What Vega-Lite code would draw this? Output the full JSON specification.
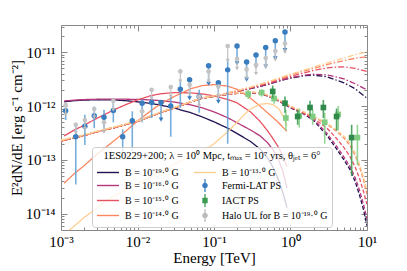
{
  "$schema": "https://vega.github.io/schema/vega-lite/v6.json",
  "width": 306,
  "height": 205,
  "autosize": {"type": "none"},
  "padding": {"left": 61, "top": 25, "right": 40, "bottom": 41},
  "background": "white",
  "config": {
    "view": {"stroke": null},
    "font": "Liberation Serif",
    "axis": {"labelFont": "Liberation Serif", "titleFont": "Liberation Serif", "labelFontSize": 15, "titleFontSize": 15, "titleFontWeight": "normal", "domainColor": "#888888", "tickColor": "#888888", "labelColor": "#000000", "titleColor": "#000000", "grid": false},
    "legend": {"labelFont": "Liberation Serif", "titleFont": "Liberation Serif"}
  },
  "datasets": {
    "curves": [
      {"s":"b19","k":"dd","E":0.001,"F":2.25e-13},{"s":"b19","k":"dd","E":0.002,"F":2.85e-13},{"s":"b19","k":"dd","E":0.003,"F":3.35e-13},{"s":"b19","k":"dd","E":0.005,"F":4.0e-13},{"s":"b19","k":"dd","E":0.01,"F":5.2e-13},{"s":"b19","k":"dd","E":0.02,"F":7.6e-13},{"s":"b19","k":"dd","E":0.03,"F":9.2e-13},{"s":"b19","k":"dd","E":0.05,"F":1.2e-12},{"s":"b19","k":"dd","E":0.07,"F":1.4e-12},{"s":"b19","k":"dd","E":0.1,"F":1.52e-12},
      {"s":"b19","k":"dd","E":0.15,"F":1.72e-12},{"s":"b19","k":"dd","E":0.2,"F":1.87e-12},{"s":"b19","k":"dd","E":0.3,"F":2.1e-12},{"s":"b19","k":"dd","E":0.5,"F":2.5e-12},{"s":"b19","k":"dd","E":0.7,"F":2.9e-12},{"s":"b19","k":"dd","E":1,"F":3.3e-12},{"s":"b19","k":"dd","E":1.5,"F":3.65e-12},{"s":"b19","k":"dd","E":2,"F":3.75e-12},{"s":"b19","k":"dd","E":3,"F":3.5e-12},{"s":"b19","k":"dd","E":5,"F":2.7e-12},{"s":"b19","k":"dd","E":7,"F":2.1e-12},{"s":"b19","k":"dd","E":10,"F":1.4e-12},
      {"s":"b19","k":"da","E":0.001,"F":2.25e-13},{"s":"b19","k":"da","E":0.002,"F":2.85e-13},{"s":"b19","k":"da","E":0.003,"F":3.35e-13},{"s":"b19","k":"da","E":0.005,"F":4.0e-13},{"s":"b19","k":"da","E":0.01,"F":5.2e-13},{"s":"b19","k":"da","E":0.02,"F":7.6e-13},{"s":"b19","k":"da","E":0.03,"F":9.2e-13},{"s":"b19","k":"da","E":0.05,"F":1.2e-12},{"s":"b19","k":"da","E":0.07,"F":1.4e-12},{"s":"b19","k":"da","E":0.1,"F":1.52e-12},
      {"s":"b19","k":"da","E":0.15,"F":1.65e-12},{"s":"b19","k":"da","E":0.2,"F":1.72e-12},{"s":"b19","k":"da","E":0.3,"F":1.78e-12},{"s":"b19","k":"da","E":0.4,"F":1.7e-12},{"s":"b19","k":"da","E":0.5,"F":1.55e-12},{"s":"b19","k":"da","E":0.7,"F":1.24e-12},{"s":"b19","k":"da","E":1,"F":9.3e-13},{"s":"b19","k":"da","E":1.5,"F":7.1e-13},{"s":"b19","k":"da","E":2,"F":5.4e-13},{"s":"b19","k":"da","E":3,"F":2.85e-13},{"s":"b19","k":"da","E":4,"F":1.6e-13},{"s":"b19","k":"da","E":5,"F":1.0e-13},{"s":"b19","k":"da","E":6,"F":6.6e-14},{"s":"b19","k":"da","E":7,"F":4.0e-14},{"s":"b19","k":"da","E":8,"F":2.2e-14},{"s":"b19","k":"da","E":9,"F":1.2e-14},{"s":"b19","k":"da","E":10,"F":6e-15},
      {"s":"b19","k":"so","E":0.0011,"F":1.2e-12},{"s":"b19","k":"so","E":0.0015,"F":1.26e-12},{"s":"b19","k":"so","E":0.002,"F":1.29e-12},{"s":"b19","k":"so","E":0.003,"F":1.31e-12},{"s":"b19","k":"so","E":0.005,"F":1.3e-12},{"s":"b19","k":"so","E":0.007,"F":1.26e-12},{"s":"b19","k":"so","E":0.01,"F":1.2e-12},{"s":"b19","k":"so","E":0.015,"F":1.12e-12},{"s":"b19","k":"so","E":0.02,"F":1.04e-12},{"s":"b19","k":"so","E":0.03,"F":9.2e-13},{"s":"b19","k":"so","E":0.05,"F":7.5e-13},{"s":"b19","k":"so","E":0.07,"F":6.3e-13},{"s":"b19","k":"so","E":0.1,"F":5.1e-13},{"s":"b19","k":"so","E":0.15,"F":3.9e-13},{"s":"b19","k":"so","E":0.2,"F":3.1e-13},{"s":"b19","k":"so","E":0.3,"F":2.2e-13},{"s":"b19","k":"so","E":0.4,"F":1.6e-13},{"s":"b19","k":"so","E":0.5,"F":1.1e-13},{"s":"b19","k":"so","E":0.6,"F":7e-14},{"s":"b19","k":"so","E":0.7,"F":4.2e-14},{"s":"b19","k":"so","E":0.8,"F":2.4e-14},{"s":"b19","k":"so","E":0.9,"F":1.3e-14},

      {"s":"b16","k":"dd","E":0.001,"F":2.25e-13},{"s":"b16","k":"dd","E":0.002,"F":2.85e-13},{"s":"b16","k":"dd","E":0.003,"F":3.35e-13},{"s":"b16","k":"dd","E":0.005,"F":4.0e-13},{"s":"b16","k":"dd","E":0.01,"F":5.2e-13},{"s":"b16","k":"dd","E":0.02,"F":7.6e-13},{"s":"b16","k":"dd","E":0.03,"F":9.2e-13},{"s":"b16","k":"dd","E":0.05,"F":1.2e-12},{"s":"b16","k":"dd","E":0.07,"F":1.4e-12},{"s":"b16","k":"dd","E":0.1,"F":1.52e-12},
      {"s":"b16","k":"dd","E":0.15,"F":1.72e-12},{"s":"b16","k":"dd","E":0.2,"F":1.88e-12},{"s":"b16","k":"dd","E":0.3,"F":2.12e-12},{"s":"b16","k":"dd","E":0.5,"F":2.55e-12},{"s":"b16","k":"dd","E":0.7,"F":2.95e-12},{"s":"b16","k":"dd","E":1,"F":3.35e-12},{"s":"b16","k":"dd","E":1.5,"F":3.75e-12},{"s":"b16","k":"dd","E":2,"F":3.9e-12},{"s":"b16","k":"dd","E":3,"F":3.8e-12},{"s":"b16","k":"dd","E":5,"F":3.2e-12},{"s":"b16","k":"dd","E":7,"F":2.6e-12},{"s":"b16","k":"dd","E":10,"F":2.0e-12},
      {"s":"b16","k":"da","E":0.001,"F":2.25e-13},{"s":"b16","k":"da","E":0.002,"F":2.85e-13},{"s":"b16","k":"da","E":0.003,"F":3.35e-13},{"s":"b16","k":"da","E":0.005,"F":4.0e-13},{"s":"b16","k":"da","E":0.01,"F":5.2e-13},{"s":"b16","k":"da","E":0.02,"F":7.6e-13},{"s":"b16","k":"da","E":0.03,"F":9.2e-13},{"s":"b16","k":"da","E":0.05,"F":1.2e-12},{"s":"b16","k":"da","E":0.07,"F":1.4e-12},{"s":"b16","k":"da","E":0.1,"F":1.52e-12},
      {"s":"b16","k":"da","E":0.15,"F":1.65e-12},{"s":"b16","k":"da","E":0.2,"F":1.72e-12},{"s":"b16","k":"da","E":0.3,"F":1.78e-12},{"s":"b16","k":"da","E":0.4,"F":1.7e-12},{"s":"b16","k":"da","E":0.5,"F":1.55e-12},{"s":"b16","k":"da","E":0.7,"F":1.25e-12},{"s":"b16","k":"da","E":1,"F":9.4e-13},{"s":"b16","k":"da","E":1.5,"F":7.2e-13},{"s":"b16","k":"da","E":2,"F":5.7e-13},{"s":"b16","k":"da","E":3,"F":3.1e-13},{"s":"b16","k":"da","E":4,"F":1.8e-13},{"s":"b16","k":"da","E":5,"F":1.13e-13},{"s":"b16","k":"da","E":6,"F":7.5e-14},{"s":"b16","k":"da","E":7,"F":4.7e-14},{"s":"b16","k":"da","E":8,"F":2.7e-14},{"s":"b16","k":"da","E":9,"F":1.5e-14},{"s":"b16","k":"da","E":10,"F":8e-15},
      {"s":"b16","k":"so","E":0.0011,"F":1.25e-12},{"s":"b16","k":"so","E":0.002,"F":1.32e-12},{"s":"b16","k":"so","E":0.003,"F":1.34e-12},{"s":"b16","k":"so","E":0.005,"F":1.35e-12},{"s":"b16","k":"so","E":0.01,"F":1.33e-12},{"s":"b16","k":"so","E":0.015,"F":1.3e-12},{"s":"b16","k":"so","E":0.02,"F":1.26e-12},{"s":"b16","k":"so","E":0.03,"F":1.19e-12},{"s":"b16","k":"so","E":0.05,"F":1.05e-12},{"s":"b16","k":"so","E":0.07,"F":9.3e-13},{"s":"b16","k":"so","E":0.1,"F":7.8e-13},{"s":"b16","k":"so","E":0.15,"F":6.1e-13},{"s":"b16","k":"so","E":0.2,"F":4.9e-13},{"s":"b16","k":"so","E":0.3,"F":3.6e-13},{"s":"b16","k":"so","E":0.4,"F":2.8e-13},{"s":"b16","k":"so","E":0.5,"F":2.1e-13},{"s":"b16","k":"so","E":0.6,"F":1.5e-13},{"s":"b16","k":"so","E":0.7,"F":1.0e-13},{"s":"b16","k":"so","E":0.8,"F":6e-14},{"s":"b16","k":"so","E":0.9,"F":3e-14},

      {"s":"b15","k":"dd","E":0.001,"F":2.25e-13},{"s":"b15","k":"dd","E":0.002,"F":2.85e-13},{"s":"b15","k":"dd","E":0.003,"F":3.35e-13},{"s":"b15","k":"dd","E":0.005,"F":4.0e-13},{"s":"b15","k":"dd","E":0.01,"F":5.2e-13},{"s":"b15","k":"dd","E":0.02,"F":7.6e-13},{"s":"b15","k":"dd","E":0.03,"F":9.2e-13},{"s":"b15","k":"dd","E":0.05,"F":1.2e-12},{"s":"b15","k":"dd","E":0.07,"F":1.4e-12},{"s":"b15","k":"dd","E":0.1,"F":1.52e-12},
      {"s":"b15","k":"dd","E":0.15,"F":1.73e-12},{"s":"b15","k":"dd","E":0.2,"F":1.9e-12},{"s":"b15","k":"dd","E":0.3,"F":2.18e-12},{"s":"b15","k":"dd","E":0.5,"F":2.65e-12},{"s":"b15","k":"dd","E":0.7,"F":3.05e-12},{"s":"b15","k":"dd","E":1,"F":3.55e-12},{"s":"b15","k":"dd","E":2,"F":4.6e-12},{"s":"b15","k":"dd","E":3,"F":5.1e-12},{"s":"b15","k":"dd","E":4,"F":5.3e-12},{"s":"b15","k":"dd","E":5,"F":5.35e-12},{"s":"b15","k":"dd","E":7,"F":5.0e-12},{"s":"b15","k":"dd","E":10,"F":4.4e-12},
      {"s":"b15","k":"da","E":0.001,"F":2.25e-13},{"s":"b15","k":"da","E":0.002,"F":2.85e-13},{"s":"b15","k":"da","E":0.003,"F":3.35e-13},{"s":"b15","k":"da","E":0.005,"F":4.0e-13},{"s":"b15","k":"da","E":0.01,"F":5.2e-13},{"s":"b15","k":"da","E":0.02,"F":7.6e-13},{"s":"b15","k":"da","E":0.03,"F":9.2e-13},{"s":"b15","k":"da","E":0.05,"F":1.2e-12},{"s":"b15","k":"da","E":0.07,"F":1.4e-12},{"s":"b15","k":"da","E":0.1,"F":1.52e-12},
      {"s":"b15","k":"da","E":0.15,"F":1.66e-12},{"s":"b15","k":"da","E":0.2,"F":1.73e-12},{"s":"b15","k":"da","E":0.3,"F":1.8e-12},{"s":"b15","k":"da","E":0.4,"F":1.72e-12},{"s":"b15","k":"da","E":0.5,"F":1.57e-12},{"s":"b15","k":"da","E":0.7,"F":1.27e-12},{"s":"b15","k":"da","E":1,"F":9.6e-13},{"s":"b15","k":"da","E":1.5,"F":7.3e-13},{"s":"b15","k":"da","E":2,"F":5.9e-13},{"s":"b15","k":"da","E":3,"F":3.9e-13},{"s":"b15","k":"da","E":4,"F":2.5e-13},{"s":"b15","k":"da","E":5,"F":1.7e-13},{"s":"b15","k":"da","E":6,"F":1.15e-13},{"s":"b15","k":"da","E":7,"F":7.4e-14},{"s":"b15","k":"da","E":8,"F":4.5e-14},{"s":"b15","k":"da","E":9,"F":2.6e-14},{"s":"b15","k":"da","E":10,"F":1.5e-14},
      {"s":"b15","k":"so","E":0.0011,"F":2.8e-13},{"s":"b15","k":"so","E":0.0015,"F":3.6e-13},{"s":"b15","k":"so","E":0.002,"F":4.4e-13},{"s":"b15","k":"so","E":0.003,"F":6.0e-13},{"s":"b15","k":"so","E":0.005,"F":8.6e-13},{"s":"b15","k":"so","E":0.007,"F":1.06e-12},{"s":"b15","k":"so","E":0.01,"F":1.3e-12},{"s":"b15","k":"so","E":0.015,"F":1.56e-12},{"s":"b15","k":"so","E":0.02,"F":1.69e-12},{"s":"b15","k":"so","E":0.03,"F":1.78e-12},{"s":"b15","k":"so","E":0.05,"F":1.76e-12},{"s":"b15","k":"so","E":0.07,"F":1.68e-12},{"s":"b15","k":"so","E":0.1,"F":1.55e-12},{"s":"b15","k":"so","E":0.15,"F":1.33e-12},{"s":"b15","k":"so","E":0.2,"F":1.15e-12},{"s":"b15","k":"so","E":0.3,"F":7.8e-13},{"s":"b15","k":"so","E":0.4,"F":5.2e-13},{"s":"b15","k":"so","E":0.5,"F":3.5e-13},{"s":"b15","k":"so","E":0.6,"F":2.4e-13},{"s":"b15","k":"so","E":0.7,"F":1.7e-13},{"s":"b15","k":"so","E":0.8,"F":1.15e-13},{"s":"b15","k":"so","E":0.9,"F":7.5e-14},

      {"s":"b14","k":"dd","E":0.001,"F":2.25e-13},{"s":"b14","k":"dd","E":0.002,"F":2.85e-13},{"s":"b14","k":"dd","E":0.003,"F":3.35e-13},{"s":"b14","k":"dd","E":0.005,"F":4.0e-13},{"s":"b14","k":"dd","E":0.01,"F":5.2e-13},{"s":"b14","k":"dd","E":0.02,"F":7.6e-13},{"s":"b14","k":"dd","E":0.03,"F":9.2e-13},{"s":"b14","k":"dd","E":0.05,"F":1.2e-12},{"s":"b14","k":"dd","E":0.07,"F":1.4e-12},{"s":"b14","k":"dd","E":0.1,"F":1.52e-12},
      {"s":"b14","k":"dd","E":0.15,"F":1.74e-12},{"s":"b14","k":"dd","E":0.2,"F":1.93e-12},{"s":"b14","k":"dd","E":0.3,"F":2.22e-12},{"s":"b14","k":"dd","E":0.5,"F":2.75e-12},{"s":"b14","k":"dd","E":0.7,"F":3.2e-12},{"s":"b14","k":"dd","E":1,"F":3.8e-12},{"s":"b14","k":"dd","E":2,"F":5.0e-12},{"s":"b14","k":"dd","E":3,"F":5.9e-12},{"s":"b14","k":"dd","E":5,"F":7.0e-12},{"s":"b14","k":"dd","E":7,"F":7.7e-12},{"s":"b14","k":"dd","E":10,"F":8.3e-12},
      {"s":"b14","k":"da","E":0.001,"F":2.25e-13},{"s":"b14","k":"da","E":0.002,"F":2.85e-13},{"s":"b14","k":"da","E":0.003,"F":3.35e-13},{"s":"b14","k":"da","E":0.005,"F":4.0e-13},{"s":"b14","k":"da","E":0.01,"F":5.2e-13},{"s":"b14","k":"da","E":0.02,"F":7.6e-13},{"s":"b14","k":"da","E":0.03,"F":9.2e-13},{"s":"b14","k":"da","E":0.05,"F":1.2e-12},{"s":"b14","k":"da","E":0.07,"F":1.4e-12},{"s":"b14","k":"da","E":0.1,"F":1.52e-12},
      {"s":"b14","k":"da","E":0.15,"F":1.67e-12},{"s":"b14","k":"da","E":0.2,"F":1.75e-12},{"s":"b14","k":"da","E":0.3,"F":1.82e-12},{"s":"b14","k":"da","E":0.4,"F":1.74e-12},{"s":"b14","k":"da","E":0.5,"F":1.6e-12},{"s":"b14","k":"da","E":0.7,"F":1.3e-12},{"s":"b14","k":"da","E":1,"F":9.9e-13},{"s":"b14","k":"da","E":1.5,"F":7.6e-13},{"s":"b14","k":"da","E":2,"F":6.3e-13},{"s":"b14","k":"da","E":3,"F":4.6e-13},{"s":"b14","k":"da","E":4,"F":3.4e-13},{"s":"b14","k":"da","E":5,"F":2.55e-13},{"s":"b14","k":"da","E":6,"F":1.85e-13},{"s":"b14","k":"da","E":7,"F":1.22e-13},{"s":"b14","k":"da","E":8,"F":7.4e-14},{"s":"b14","k":"da","E":9,"F":4.3e-14},{"s":"b14","k":"da","E":10,"F":2.3e-14},
      {"s":"b14","k":"so","E":0.0011,"F":3.7e-14},{"s":"b14","k":"so","E":0.0015,"F":5.6e-14},{"s":"b14","k":"so","E":0.002,"F":7.8e-14},{"s":"b14","k":"so","E":0.003,"F":1.3e-13},{"s":"b14","k":"so","E":0.005,"F":2.3e-13},{"s":"b14","k":"so","E":0.007,"F":3.4e-13},{"s":"b14","k":"so","E":0.01,"F":5.3e-13},{"s":"b14","k":"so","E":0.015,"F":8.2e-13},{"s":"b14","k":"so","E":0.02,"F":1.1e-12},{"s":"b14","k":"so","E":0.03,"F":1.5e-12},{"s":"b14","k":"so","E":0.05,"F":2.1e-12},{"s":"b14","k":"so","E":0.07,"F":2.4e-12},{"s":"b14","k":"so","E":0.1,"F":2.5e-12},{"s":"b14","k":"so","E":0.15,"F":2.35e-12},{"s":"b14","k":"so","E":0.2,"F":2.05e-12},{"s":"b14","k":"so","E":0.3,"F":1.4e-12},{"s":"b14","k":"so","E":0.4,"F":1.0e-12},{"s":"b14","k":"so","E":0.5,"F":7.5e-13},{"s":"b14","k":"so","E":0.6,"F":6.0e-13},{"s":"b14","k":"so","E":0.7,"F":4.9e-13},{"s":"b14","k":"so","E":0.8,"F":4.0e-13},{"s":"b14","k":"so","E":0.9,"F":3.4e-13},

      {"s":"b13","k":"dd","E":0.001,"F":2.32e-13},{"s":"b13","k":"dd","E":0.002,"F":2.93e-13},{"s":"b13","k":"dd","E":0.003,"F":3.43e-13},{"s":"b13","k":"dd","E":0.005,"F":4.1e-13},{"s":"b13","k":"dd","E":0.01,"F":5.3e-13},{"s":"b13","k":"dd","E":0.02,"F":7.75e-13},{"s":"b13","k":"dd","E":0.03,"F":9.4e-13},{"s":"b13","k":"dd","E":0.05,"F":1.22e-12},{"s":"b13","k":"dd","E":0.07,"F":1.42e-12},{"s":"b13","k":"dd","E":0.1,"F":1.55e-12},
      {"s":"b13","k":"dd","E":0.15,"F":1.75e-12},{"s":"b13","k":"dd","E":0.2,"F":1.95e-12},{"s":"b13","k":"dd","E":0.3,"F":2.25e-12},{"s":"b13","k":"dd","E":0.5,"F":2.8e-12},{"s":"b13","k":"dd","E":0.7,"F":3.3e-12},{"s":"b13","k":"dd","E":1,"F":3.9e-12},{"s":"b13","k":"dd","E":2,"F":5.3e-12},{"s":"b13","k":"dd","E":3,"F":6.3e-12},{"s":"b13","k":"dd","E":5,"F":7.8e-12},{"s":"b13","k":"dd","E":7,"F":9.0e-12},{"s":"b13","k":"dd","E":10,"F":1.02e-11},
      {"s":"b13","k":"da","E":0.001,"F":2.32e-13},{"s":"b13","k":"da","E":0.002,"F":2.93e-13},{"s":"b13","k":"da","E":0.003,"F":3.43e-13},{"s":"b13","k":"da","E":0.005,"F":4.1e-13},{"s":"b13","k":"da","E":0.01,"F":5.3e-13},{"s":"b13","k":"da","E":0.02,"F":7.75e-13},{"s":"b13","k":"da","E":0.03,"F":9.4e-13},{"s":"b13","k":"da","E":0.05,"F":1.22e-12},{"s":"b13","k":"da","E":0.07,"F":1.42e-12},{"s":"b13","k":"da","E":0.1,"F":1.55e-12},
      {"s":"b13","k":"da","E":0.15,"F":1.68e-12},{"s":"b13","k":"da","E":0.2,"F":1.76e-12},{"s":"b13","k":"da","E":0.3,"F":1.84e-12},{"s":"b13","k":"da","E":0.4,"F":1.76e-12},{"s":"b13","k":"da","E":0.5,"F":1.62e-12},{"s":"b13","k":"da","E":0.7,"F":1.32e-12},{"s":"b13","k":"da","E":1,"F":1.0e-12},{"s":"b13","k":"da","E":1.5,"F":7.8e-13},{"s":"b13","k":"da","E":2,"F":6.5e-13},{"s":"b13","k":"da","E":3,"F":4.8e-13},{"s":"b13","k":"da","E":4,"F":3.6e-13},{"s":"b13","k":"da","E":5,"F":2.75e-13},{"s":"b13","k":"da","E":6,"F":2.05e-13},{"s":"b13","k":"da","E":7,"F":1.35e-13},{"s":"b13","k":"da","E":8,"F":8.2e-14},{"s":"b13","k":"da","E":9,"F":4.8e-14},{"s":"b13","k":"da","E":10,"F":2.7e-14},
      {"s":"b13","k":"so","E":0.001,"F":3.6e-15},{"s":"b13","k":"so","E":0.0013,"F":5e-15},{"s":"b13","k":"so","E":0.002,"F":8.5e-15},{"s":"b13","k":"so","E":0.003,"F":1.3e-14},{"s":"b13","k":"so","E":0.004,"F":1.8e-14},{"s":"b13","k":"so","E":0.007,"F":2.8e-14},{"s":"b13","k":"so","E":0.01,"F":3.6e-14},{"s":"b13","k":"so","E":0.02,"F":6e-14},{"s":"b13","k":"so","E":0.03,"F":8.3e-14},{"s":"b13","k":"so","E":0.05,"F":1.2e-13},{"s":"b13","k":"so","E":0.07,"F":1.5e-13},{"s":"b13","k":"so","E":0.09,"F":1.8e-13},{"s":"b13","k":"so","E":0.1,"F":2.0e-13},{"s":"b13","k":"so","E":0.15,"F":3.3e-13},{"s":"b13","k":"so","E":0.2,"F":5.0e-13},{"s":"b13","k":"so","E":0.25,"F":7e-13},{"s":"b13","k":"so","E":0.3,"F":8.8e-13},{"s":"b13","k":"so","E":0.4,"F":1.08e-12},{"s":"b13","k":"so","E":0.5,"F":1.12e-12},{"s":"b13","k":"so","E":0.6,"F":1.05e-12},{"s":"b13","k":"so","E":0.7,"F":9e-13},{"s":"b13","k":"so","E":0.8,"F":6.5e-13},{"s":"b13","k":"so","E":0.9,"F":4.3e-13}
    ],
    "fermi": [
      {"E":0.00115,"F":8.2e-13,"lo":5.5e-13,"hi":1.15e-12,"ul":false},
      {"E":0.00156,"F":2.7e-13,"lo":3.5e-14,"hi":4.9e-13,"ul":false},
      {"E":0.00205,"F":4.2e-13,"lo":1.9e-13,"hi":6.9e-13,"ul":false},
      {"E":0.00272,"F":6.6e-13,"lo":3.9e-13,"hi":9.8e-13,"ul":false},
      {"E":0.00365,"F":6.2e-13,"lo":3.8e-13,"hi":8.5e-13,"ul":false},
      {"E":0.00483,"F":8.3e-13,"lo":5.0e-13,"hi":1.3e-12,"ul":false},
      {"E":0.0064,"F":2.7e-13,"lo":1.2e-13,"hi":3.7e-13,"ul":false},
      {"E":0.00855,"F":5.35e-13,"lo":1.5e-13,"hi":8e-13,"ul":false},
      {"E":0.0115,"F":1.13e-12,"lo":5.0e-13,"hi":1.35e-12,"ul":false},
      {"E":0.0153,"F":1.16e-12,"lo":6.0e-13,"hi":1.5e-12,"ul":false},
      {"E":0.0203,"F":1.16e-12,"lo":5.6e-13,"hi":1.16e-12,"ul":true},
      {"E":0.0272,"F":1.0e-12,"lo":2.7e-13,"hi":1.5e-12,"ul":false},
      {"E":0.0363,"F":2.06e-12,"lo":9.2e-13,"hi":3.1e-12,"ul":false},
      {"E":0.048,"F":3.07e-12,"lo":1.4e-12,"hi":3.07e-12,"ul":true},
      {"E":0.064,"F":1.5e-12,"lo":7.5e-13,"hi":2.0e-12,"ul":false},
      {"E":0.085,"F":5.6e-12,"lo":2.6e-12,"hi":5.6e-12,"ul":true},
      {"E":0.114,"F":2.7e-12,"lo":1.2e-12,"hi":2.7e-12,"ul":true},
      {"E":0.151,"F":4.7e-12,"lo":2.0e-13,"hi":7e-12,"ul":false},
      {"E":0.2,"F":1.31e-11,"lo":6.2e-12,"hi":1.31e-11,"ul":true},
      {"E":0.267,"F":6.6e-12,"lo":3.1e-12,"hi":6.6e-12,"ul":true},
      {"E":0.354,"F":8.9e-12,"lo":5.4e-12,"hi":8.9e-12,"ul":true},
      {"E":0.474,"F":1.22e-11,"lo":5.4e-12,"hi":1.22e-11,"ul":true},
      {"E":0.633,"F":1.64e-11,"lo":7.7e-12,"hi":1.64e-11,"ul":true},
      {"E":0.847,"F":2.38e-11,"lo":1.1e-11,"hi":2.38e-11,"ul":true}
    ],
    "halo": [
      {"E":0.00115,"F":1.05e-12,"lo":7e-13},
      {"E":0.00156,"F":4.5e-13,"lo":3.2e-13},
      {"E":0.00205,"F":5.5e-13,"lo":3.8e-13},
      {"E":0.00272,"F":8.8e-13,"lo":6.2e-13},
      {"E":0.00365,"F":5e-13,"lo":3.3e-13},
      {"E":0.00483,"F":1.25e-12,"lo":8.5e-13},
      {"E":0.0115,"F":8e-13,"lo":5.5e-13},
      {"E":0.0153,"F":2.0e-12,"lo":1.4e-12},
      {"E":0.0272,"F":2.25e-12,"lo":1.5e-12},
      {"E":0.0363,"F":4.4e-12,"lo":2.9e-12},
      {"E":0.048,"F":2.5e-12,"lo":1.7e-12},
      {"E":0.064,"F":1.5e-12,"lo":1.0e-12},
      {"E":0.085,"F":4.4e-12,"lo":2.9e-12},
      {"E":0.114,"F":2.3e-12,"lo":1.5e-12},
      {"E":0.151,"F":1.3e-11,"lo":7e-12},
      {"E":0.2,"F":7.5e-12,"lo":5e-12},
      {"E":0.267,"F":4.8e-12,"lo":3.3e-12},
      {"E":0.354,"F":5.8e-12,"lo":4e-12},
      {"E":0.474,"F":7.8e-12,"lo":5.4e-12},
      {"E":0.633,"F":1.05e-11,"lo":7.2e-12},
      {"E":0.847,"F":1.45e-11,"lo":1.0e-11}
    ],
    "iact": [
      {"g":"light","E":0.28,"F":1.67e-12,"lo":1.35e-12,"hi":2.0e-12},
      {"g":"light","E":0.42,"F":1.78e-12,"lo":1.5e-12,"hi":2.05e-12},
      {"g":"light","E":0.61,"F":1.38e-12,"lo":1.1e-12,"hi":1.7e-12},
      {"g":"light","E":0.87,"F":6.0e-13,"lo":3.5e-13,"hi":8.5e-13},
      {"g":"light","E":1.3,"F":6.6e-13,"lo":4e-13,"hi":9e-13},
      {"g":"light","E":1.95,"F":6.4e-13,"lo":4.5e-13,"hi":8.5e-13},
      {"g":"light","E":2.8,"F":5.0e-13,"lo":2e-13,"hi":7.5e-13},
      {"g":"light","E":4.2,"F":7.0e-13,"lo":3.5e-13,"hi":1.0e-12},
      {"g":"light","E":7.5,"F":2.6e-13,"lo":8e-14,"hi":4.5e-13},
      {"g":"dark","E":0.585,"F":1.87e-12,"lo":1.4e-12,"hi":2.4e-12},
      {"g":"dark","E":0.847,"F":1.13e-12,"lo":7.5e-13,"hi":1.5e-12},
      {"g":"dark","E":1.24,"F":6.4e-13,"lo":4.5e-13,"hi":8.5e-13},
      {"g":"dark","E":1.8,"F":9.4e-13,"lo":6.5e-13,"hi":1.25e-12},
      {"g":"dark","E":2.69,"F":9.4e-13,"lo":6e-13,"hi":1.3e-12},
      {"g":"dark","E":4.0,"F":6.4e-13,"lo":3.5e-13,"hi":9e-13},
      {"g":"dark","E":6.3,"F":2.6e-13,"lo":5e-14,"hi":4.5e-13}
    ],
    "legend": [
      {"s":"b19","E":1e-6,"F":1e-17},{"s":"b16","E":1e-6,"F":1e-17},{"s":"b15","E":1e-6,"F":1e-17},{"s":"b14","E":1e-6,"F":1e-17},
      {"s":"b13","E":1e-6,"F":1e-17},{"s":"fermi","E":1e-6,"F":1e-17},{"s":"iact","E":1e-6,"F":1e-17},{"s":"halo","E":1e-6,"F":1e-17}
    ]
  },
  "resolve": {"axis": {"x": "independent", "y": "independent"}},
  "layer": [
    {
      "data": {"name": "curves"},
      "mark": {"type": "line", "strokeWidth": 1.3, "clip": true},
      "encoding": {
        "x": {"field": "E", "type": "quantitative", "scale": {"type": "log", "domain": [0.001, 10], "nice": false},
          "axis": {"orient": "bottom", "values": [0.001, 0.01, 0.1, 1, 10], "tickSize": -6, "labelPadding": 10, "labelFlush": false,
            "labelExpr": "datum.value < 0.005 ? '10⁻³' : datum.value < 0.05 ? '10⁻²' : datum.value < 0.5 ? '10⁻¹' : datum.value < 5 ? '10⁰' : '10¹'",
            "title": "Energy [TeV]", "titlePadding": 1}},
        "y": {"field": "F", "type": "quantitative", "scale": {"type": "log", "domain": [5e-15, 3.2e-11], "nice": false},
          "axis": {"orient": "left", "values": [1e-14, 1e-13, 1e-12, 1e-11], "tickSize": -6, "labelPadding": 12, "labelFlush": false,
            "labelExpr": "datum.value < 5e-14 ? '10⁻¹⁴' : datum.value < 5e-13 ? '10⁻¹³' : datum.value < 5e-12 ? '10⁻¹²' : '10⁻¹¹'",
            "title": "E²dN/dE [erg s⁻¹ cm⁻²]", "titlePadding": 1}},
        "stroke": {"field": "s", "type": "nominal", "legend": null,
          "scale": {"domain": ["b19", "b16", "b15", "b14", "b13"], "range": ["#221150", "#b5367a", "#e75263", "#fb8761", "#fecf92"]}},
        "strokeDash": {"field": "k", "type": "nominal", "legend": null,
          "scale": {"domain": ["so", "dd", "da"], "range": [[1, 0], [6, 2, 1.5, 2], [4, 2]]}}
      }
    },
    {
      "data": {"name": "fermi"},
      "mark": {"type": "rule", "color": "#5e9fd6", "strokeWidth": 1.6, "opacity": 0.85, "clip": true},
      "encoding": {
        "x": {"field": "E", "type": "quantitative",
          "axis": {"orient": "bottom", "values": [0.002,0.003,0.004,0.005,0.006,0.007,0.008,0.009,0.02,0.03,0.04,0.05,0.06,0.07,0.08,0.09,0.2,0.3,0.4,0.5,0.6,0.7,0.8,0.9,2,3,4,5,6,7,8,9], "tickSize": -3, "labels": false, "domain": false, "title": null}},
        "y": {"field": "lo", "type": "quantitative",
          "axis": {"orient": "left", "values": [6e-15,7e-15,8e-15,9e-15,2e-14,3e-14,4e-14,5e-14,6e-14,7e-14,8e-14,9e-14,2e-13,3e-13,4e-13,5e-13,6e-13,7e-13,8e-13,9e-13,2e-12,3e-12,4e-12,5e-12,6e-12,7e-12,8e-12,9e-12,2e-11,3e-11], "tickSize": -3, "labels": false, "domain": false, "title": null}},
        "y2": {"field": "hi"}
      }
    },
    {
      "data": {"name": "fermi"},
      "mark": {"type": "point", "shape": "circle", "filled": true, "size": 30, "color": "#3a7dbf", "opacity": 1, "clip": true},
      "encoding": {
        "x": {"field": "E", "type": "quantitative",
          "axis": {"orient": "top", "values": [0.001, 0.01, 0.1, 1, 10], "tickSize": -6, "labels": false, "title": null}},
        "y": {"field": "F", "type": "quantitative",
          "axis": {"orient": "right", "values": [1e-14, 1e-13, 1e-12, 1e-11], "tickSize": -6, "labels": false, "title": null}}
      }
    },
    {
      "data": {"name": "fermi"},
      "transform": [{"filter": "datum.ul"}],
      "mark": {"type": "point", "shape": "triangle-down", "filled": true, "size": 22, "color": "#3a7dbf", "opacity": 1, "clip": true},
      "encoding": {
        "x": {"field": "E", "type": "quantitative",
          "axis": {"orient": "top", "values": [0.002,0.003,0.004,0.005,0.006,0.007,0.008,0.009,0.02,0.03,0.04,0.05,0.06,0.07,0.08,0.09,0.2,0.3,0.4,0.5,0.6,0.7,0.8,0.9,2,3,4,5,6,7,8,9], "tickSize": -3, "labels": false, "domain": false, "title": null}},
        "y": {"field": "lo", "type": "quantitative",
          "axis": {"orient": "right", "values": [6e-15,7e-15,8e-15,9e-15,2e-14,3e-14,4e-14,5e-14,6e-14,7e-14,8e-14,9e-14,2e-13,3e-13,4e-13,5e-13,6e-13,7e-13,8e-13,9e-13,2e-12,3e-12,4e-12,5e-12,6e-12,7e-12,8e-12,9e-12,2e-11,3e-11], "tickSize": -3, "labels": false, "domain": false, "title": null}}
      }
    },
    {
      "data": {"name": "halo"},
      "mark": {"type": "rule", "color": "#c4c4c4", "strokeWidth": 1.2, "clip": true},
      "encoding": {
        "x": {"field": "E", "type": "quantitative", "axis": null},
        "y": {"field": "lo", "type": "quantitative", "axis": null},
        "y2": {"field": "F"}
      }
    },
    {
      "data": {"name": "halo"},
      "mark": {"type": "point", "shape": "circle", "filled": true, "size": 22, "color": "#c4c4c4", "opacity": 1, "clip": true},
      "encoding": {
        "x": {"field": "E", "type": "quantitative", "axis": null},
        "y": {"field": "F", "type": "quantitative", "axis": null}
      }
    },
    {
      "data": {"name": "halo"},
      "mark": {"type": "point", "shape": "triangle-down", "filled": true, "size": 16, "color": "#bcbcbc", "opacity": 1, "clip": true},
      "encoding": {
        "x": {"field": "E", "type": "quantitative", "axis": null},
        "y": {"field": "lo", "type": "quantitative", "axis": null}
      }
    },
    {
      "data": {"name": "iact"},
      "transform": [{"filter": "datum.g == 'light'"}],
      "mark": {"type": "rule", "color": "#86d08a", "strokeWidth": 1.6, "opacity": 0.9, "clip": true},
      "encoding": {
        "x": {"field": "E", "type": "quantitative", "axis": null},
        "y": {"field": "lo", "type": "quantitative", "axis": null},
        "y2": {"field": "hi"}
      }
    },
    {
      "data": {"name": "iact"},
      "transform": [{"filter": "datum.g == 'light'"}],
      "mark": {"type": "point", "shape": "square", "filled": true, "size": 32, "color": "#7fcc82", "opacity": 1, "clip": true},
      "encoding": {
        "x": {"field": "E", "type": "quantitative", "axis": null},
        "y": {"field": "F", "type": "quantitative", "axis": null}
      }
    },
    {
      "data": {"name": "iact"},
      "transform": [{"filter": "datum.g == 'dark'"}],
      "mark": {"type": "rule", "color": "#3f9a55", "strokeWidth": 1.6, "opacity": 0.9, "clip": true},
      "encoding": {
        "x": {"field": "E", "type": "quantitative", "axis": null},
        "y": {"field": "lo", "type": "quantitative", "axis": null},
        "y2": {"field": "hi"}
      }
    },
    {
      "data": {"name": "iact"},
      "transform": [{"filter": "datum.g == 'dark'"}],
      "mark": {"type": "point", "shape": "square", "filled": true, "size": 32, "color": "#2f8a4a", "opacity": 1, "clip": true},
      "encoding": {
        "x": {"field": "E", "type": "quantitative", "axis": null},
        "y": {"field": "F", "type": "quantitative", "axis": null}
      }
    },
    {
      "data": {"name": "legend"},
      "mark": {"type": "point", "filled": true, "opacity": 1, "clip": true, "size": 196},
      "encoding": {
        "x": {"field": "E", "type": "quantitative", "axis": null},
        "y": {"field": "F", "type": "quantitative", "axis": null},
        "color": {"field": "s", "type": "nominal",
          "scale": {"domain": ["b19", "b16", "b15", "b14", "b13", "fermi", "iact", "halo"],
                    "range": ["#221150", "#b5367a", "#e75263", "#fb8761", "#fecf92", "#3a7dbf", "#3a9a50", "#bbbbbb"]},
          "legend": {
            "orient": "none", "legendX": 31, "legendY": 122, "columns": 2, "columnPadding": 14, "rowPadding": 0,
            "direction": "vertical",
            "title": "1ES0229+200; λ = 10⁰ Mpc, tₘₐₓ = 10⁷ yrs, θⱼₑₜ = 6°", "titleLimit": 600,
            "titleFontSize": 10.5, "titleFontWeight": "normal", "titleAnchor": "middle", "titleAlign": "center", "titlePadding": 3, "titleColor": "#000000",
            "labelFontSize": 10, "labelColor": "#000000", "labelOffset": 9, "symbolOffset": 4, "symbolSize": 196, "labelLimit": 300,
            "padding": 4, "fillColor": "rgba(255,255,255,0.8)", "strokeColor": "#cccccc", "cornerRadius": 3,
            "labelExpr": "datum.value == 'b19' ? 'B = 10⁻¹⁹·⁰ G' : datum.value == 'b16' ? 'B = 10⁻¹⁶·⁰ G' : datum.value == 'b15' ? 'B = 10⁻¹⁵·⁰ G' : datum.value == 'b14' ? 'B = 10⁻¹⁴·⁰ G' : datum.value == 'b13' ? 'B = 10⁻¹³·⁰ G' : datum.value == 'fermi' ? 'Fermi-LAT PS' : datum.value == 'iact' ? 'IACT PS' : 'Halo UL for B = 10⁻¹⁹·⁰ G'"
          }},
        "shape": {"field": "s", "type": "nominal",
          "scale": {"domain": ["b19", "b16", "b15", "b14", "b13", "fermi", "iact", "halo"],
                    "range": ["M-1.57,-0.1H1.57V0.1H-1.57Z", "M-1.57,-0.1H1.57V0.1H-1.57Z", "M-1.57,-0.1H1.57V0.1H-1.57Z", "M-1.57,-0.1H1.57V0.1H-1.57Z", "M-1.57,-0.1H1.57V0.1H-1.57Z",
                              "M0.4,0A0.4,0.4 0 1,1 -0.4,0A0.4,0.4 0 1,1 0.4,0ZM-0.09,-0.93H0.09V0.93H-0.09Z",
                              "M-0.38,-0.38H0.38V0.38H-0.38ZM-0.09,-0.93H0.09V0.93H-0.09Z",
                              "M0.4,0A0.4,0.4 0 1,1 -0.4,0A0.4,0.4 0 1,1 0.4,0ZM-0.09,-0.93H0.09V0.93H-0.09Z"]}}
      }
    }
  ]
}
